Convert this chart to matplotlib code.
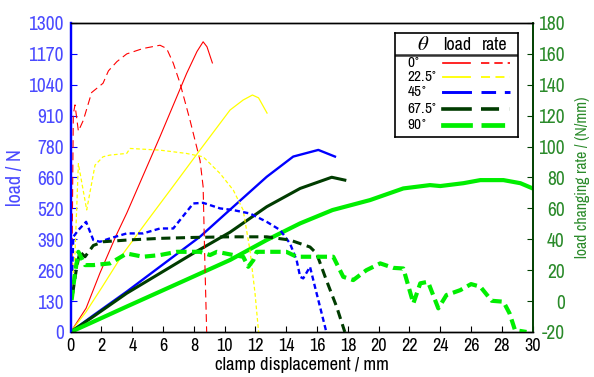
import matplotlib
matplotlib.use('Agg')
import matplotlib.pyplot as plt
from matplotlib import font_manager

## Donnees

# 0 deg
x0_load = [0, 1.0, 1.9, 2.98, 3.64, 5.8, 7.53, 8.2, 8.6, 8.85, 9.2]
load0 = [0, 100, 248, 410, 500, 822, 1088, 1180, 1221, 1200, 1132]
x0_rate = [0.08, 0.17, 0.28, 0.5, 0.82, 1.36, 2.1, 2.45, 3.0, 3.64, 4.7, 5.8, 6.23, 6.66, 7.1, 7.75, 8.4, 8.6, 8.7, 8.83]
rate0 = [20, 121, 127, 110, 117, 135, 141, 149, 155, 160, 163.5, 165.6, 163.5, 154, 141, 117, 91, 74, 30, -20]

# 22.5 deg
x22_load = [0, 1.0, 2.0, 3.42, 5.0, 6.5, 8.4, 10.35, 11.2, 11.8, 12.2, 12.75]
load22 = [0, 85, 185, 331, 470, 600, 766, 934, 976, 997, 985, 921]
x22_rate = [0.1, 0.28, 0.5, 1.04, 1.58, 2.1, 2.55, 3.64, 3.85, 5.8, 7.5, 8.6, 9.7, 10.56, 11.2, 11.64, 11.97, 12.2]
rate22 = [10, 31, 89, 59, 88, 93.4, 94.5, 95.6, 98.8, 97.7, 95.6, 93.4, 82.6, 71.8, 58.9, 33, 5, -20]

# 45 deg
x45_load = [0, 1.47, 3.64, 5.8, 8.4, 10.56, 12.73, 14.45, 16.08, 17.16]
load45 = [0, 70, 170, 275, 401, 527, 653, 738, 766, 738]
x45_rate = [0.1, 0.17, 0.5, 1.0, 1.47, 1.9, 2.55, 3.64, 4.7, 5.8, 6.66, 7.3, 7.96, 8.6, 9.7, 10.56, 11.64,
            12.73, 13.6, 14.24, 14.67, 14.9, 15.1, 15.54, 15.86, 16.19, 16.6]
rate45 = [20, 41.6, 46, 51.3, 39.5, 38.4, 40.6, 43.8, 43.8, 47, 47, 55, 63.2, 63.6, 60, 58.9, 56.7,
          51.3, 46, 37.3, 26.5, 15.7, 14.7, 22.2, 9.3, -3.7, -20]

# 67.5 deg
x67_load = [0, 1.47, 3.64, 5.8, 7.96, 10.35, 12.73, 14.9, 16.95, 17.8]
load67 = [0, 65, 163, 247, 331, 420, 527, 604, 651, 639]
x67_rate = [0.13, 0.39, 0.6, 0.93, 1.47, 2.1, 3.64, 5.8, 7.96, 10.35, 12.73, 14.24, 15.54, 15.97, 16.6, 17.27, 17.8]
rate67 = [5, 22, 31.9, 28.7, 36, 38.4, 39.5, 40.6, 41.2, 41.6, 41.6, 39.5, 35, 30.8, 13.6, -3.7, -20]

# 90 deg
x90_load = [0, 1.47, 3.64, 5.8, 7.96, 10.35, 12.73, 14.9, 17.0, 19.44, 21.6, 23.33, 24.0, 25.5, 26.6, 28.1, 29.2, 30.0]
load90 = [0, 43, 107, 170, 233, 303, 387, 457, 513, 555, 604, 618, 614, 626, 639, 639, 626, 604]
x90_rate = [0.06, 0.28, 0.5, 0.93, 1.47, 2.55, 3.64, 4.7, 5.8, 6.9, 8.4, 9.05, 9.5, 10.56, 11.2, 11.53, 11.86,
            12.08, 14.0, 14.67, 16.2, 17.05, 17.7, 18.35, 19.2, 20.1, 20.95, 21.6, 22.25, 22.7, 23.2, 23.87,
            24.4, 25.3, 26.0, 26.6, 27.34, 28.1, 28.5, 28.85, 29.6]
rate90 = [0.6, 18, 31.9, 23.3, 23.3, 24.4, 30.8, 28.7, 29.8, 31.9, 31.9, 29.8, 31.9, 29.8, 28.7, 22.2, 26.5,
          31.9, 31.9, 28.7, 28.7, 28.7, 15.7, 13.6, 20, 24.4, 21.5, 21.1, -1.5, 11.5, 12.5, -4.7,
          3.9, 7.1, 11, 9.3, 0.2, -0.4, -8, -18.8, -20]

angles = ["0", "22.5", "45", "67.5", "90"]
left_ticks = [0, 130, 260, 390, 520, 650, 780, 910, 1040, 1170, 1300]
left_labels = ["0", "130", "260", "390", "520", "660", "780", "910", "1040", "1170", "1300"]

## Styles
colors = ["#ff0000", "#ffff00", "#0000ff", "#003c00", "#00ee00"]
widths = [0.8, 0.9, 1.7, 2.2, 3.0]
dashes = [(7, 4), (3, 2), (2.2, 1.4), (3, 1.8), (2.5, 1.3)]
blue_txt = '#4a4aff'
green_txt = '#2a8a2a'

# police etroite (texte ecrase horizontalement dans l'original)
names = {f.name for f in font_manager.fontManager.ttflist}
narrow = 'Liberation Sans'
for n in ['Liberation Sans Narrow', 'Archivo Narrow', 'Arial Narrow']:
    if n in names:
        narrow = n
        break
plt.rcParams['font.family'] = [narrow, 'DejaVu Sans']
plt.rcParams['mathtext.fontset'] = 'stix'
plt.rcParams['axes.unicode_minus'] = False

fig = plt.figure(figsize=(5.94, 3.77), dpi=100)
ax = fig.add_axes([0.119, 0.1194, 0.7778, 0.8196])
ax2 = ax.twinx()

loads = [(x0_load, load0), (x22_load, load22), (x45_load, load45), (x67_load, load67), (x90_load, load90)]
rates = [(x0_rate, rate0), (x22_rate, rate22), (x45_rate, rate45), (x67_rate, rate67), (x90_rate, rate90)]

for i in range(5):
    ax.plot(loads[i][0], loads[i][1], color=colors[i], lw=widths[i])
    ax2.plot(rates[i][0], rates[i][1], color=colors[i], lw=widths[i], dashes=dashes[i])

# Axes
ax.set_xlim(0, 30)
ax.set_ylim(0, 1300)
ax2.set_ylim(-20, 180)
ax.set_xticks(range(0, 31, 2))
ax.set_yticks(left_ticks)
ax.set_yticklabels(left_labels)
ax2.set_yticks(range(-20, 181, 20))

ax.tick_params(axis='x', direction='in', length=4, labelsize=13, colors='black', pad=4)
ax.tick_params(axis='y', direction='in', length=4, labelsize=14, color='#0000ff', labelcolor=blue_txt, pad=5)
ax2.tick_params(axis='y', direction='in', length=4, labelsize=14, color='#004000', labelcolor=green_txt, pad=23)
for lab in ax2.get_yticklabels():
    lab.set_horizontalalignment('right')

for a in (ax, ax2):
    a.spines['left'].set_color('#0000ff')
    a.spines['left'].set_linewidth(1.6)
    a.spines['right'].set_color('#004000')
    a.spines['right'].set_linewidth(1.2)
    a.spines['top'].set_linewidth(1.0)
    a.spines['bottom'].set_linewidth(1.0)

ax.set_xlabel("clamp displacement / mm", fontsize=13.4)
ax.set_ylabel("load / N", fontsize=14.5, color=blue_txt)
ax2.set_ylabel("load changing rate / (N/mm)", fontsize=11.3, color=green_txt)
ax.xaxis.set_label_coords(0.5, -0.08)
ax.yaxis.set_label_coords(-0.099, 0.5)
ax2.yaxis.set_label_coords(1.0915, 0.5)

## Legende sous forme de tableau
leg = ax2.inset_axes([0.702, 0.631, 0.266, 0.337])
leg.set_xlim(0, 123)
leg.set_ylim(104, 0)
leg.set_xticks([])
leg.set_yticks([])
for s in leg.spines.values():
    s.set_linewidth(1.2)
leg.set_facecolor('white')
leg.plot([0, 123], [22, 22], color='#303030', lw=1.8)
leg.text(28, 12, r'$\theta$', fontsize=15, ha='center', va='center')
leg.text(62, 12, "load", fontsize=13, ha='center', va='center')
leg.text(100, 12, "rate", fontsize=13, ha='center', va='center')
row_y = [30, 44.5, 59.5, 76, 92.5]
for i in range(5):
    leg.text(12, row_y[i], angles[i] + r'$^{\circ}$', fontsize=11, ha='left', va='center')
    leg.plot([48, 75], [row_y[i], row_y[i]], color=colors[i], lw=widths[i] + 0.4)
    leg.plot([86.5, 115], [row_y[i], row_y[i]], color=colors[i], lw=widths[i] + 0.4, dashes=(5, 3))

plt.savefig("out.png", dpi=100)
